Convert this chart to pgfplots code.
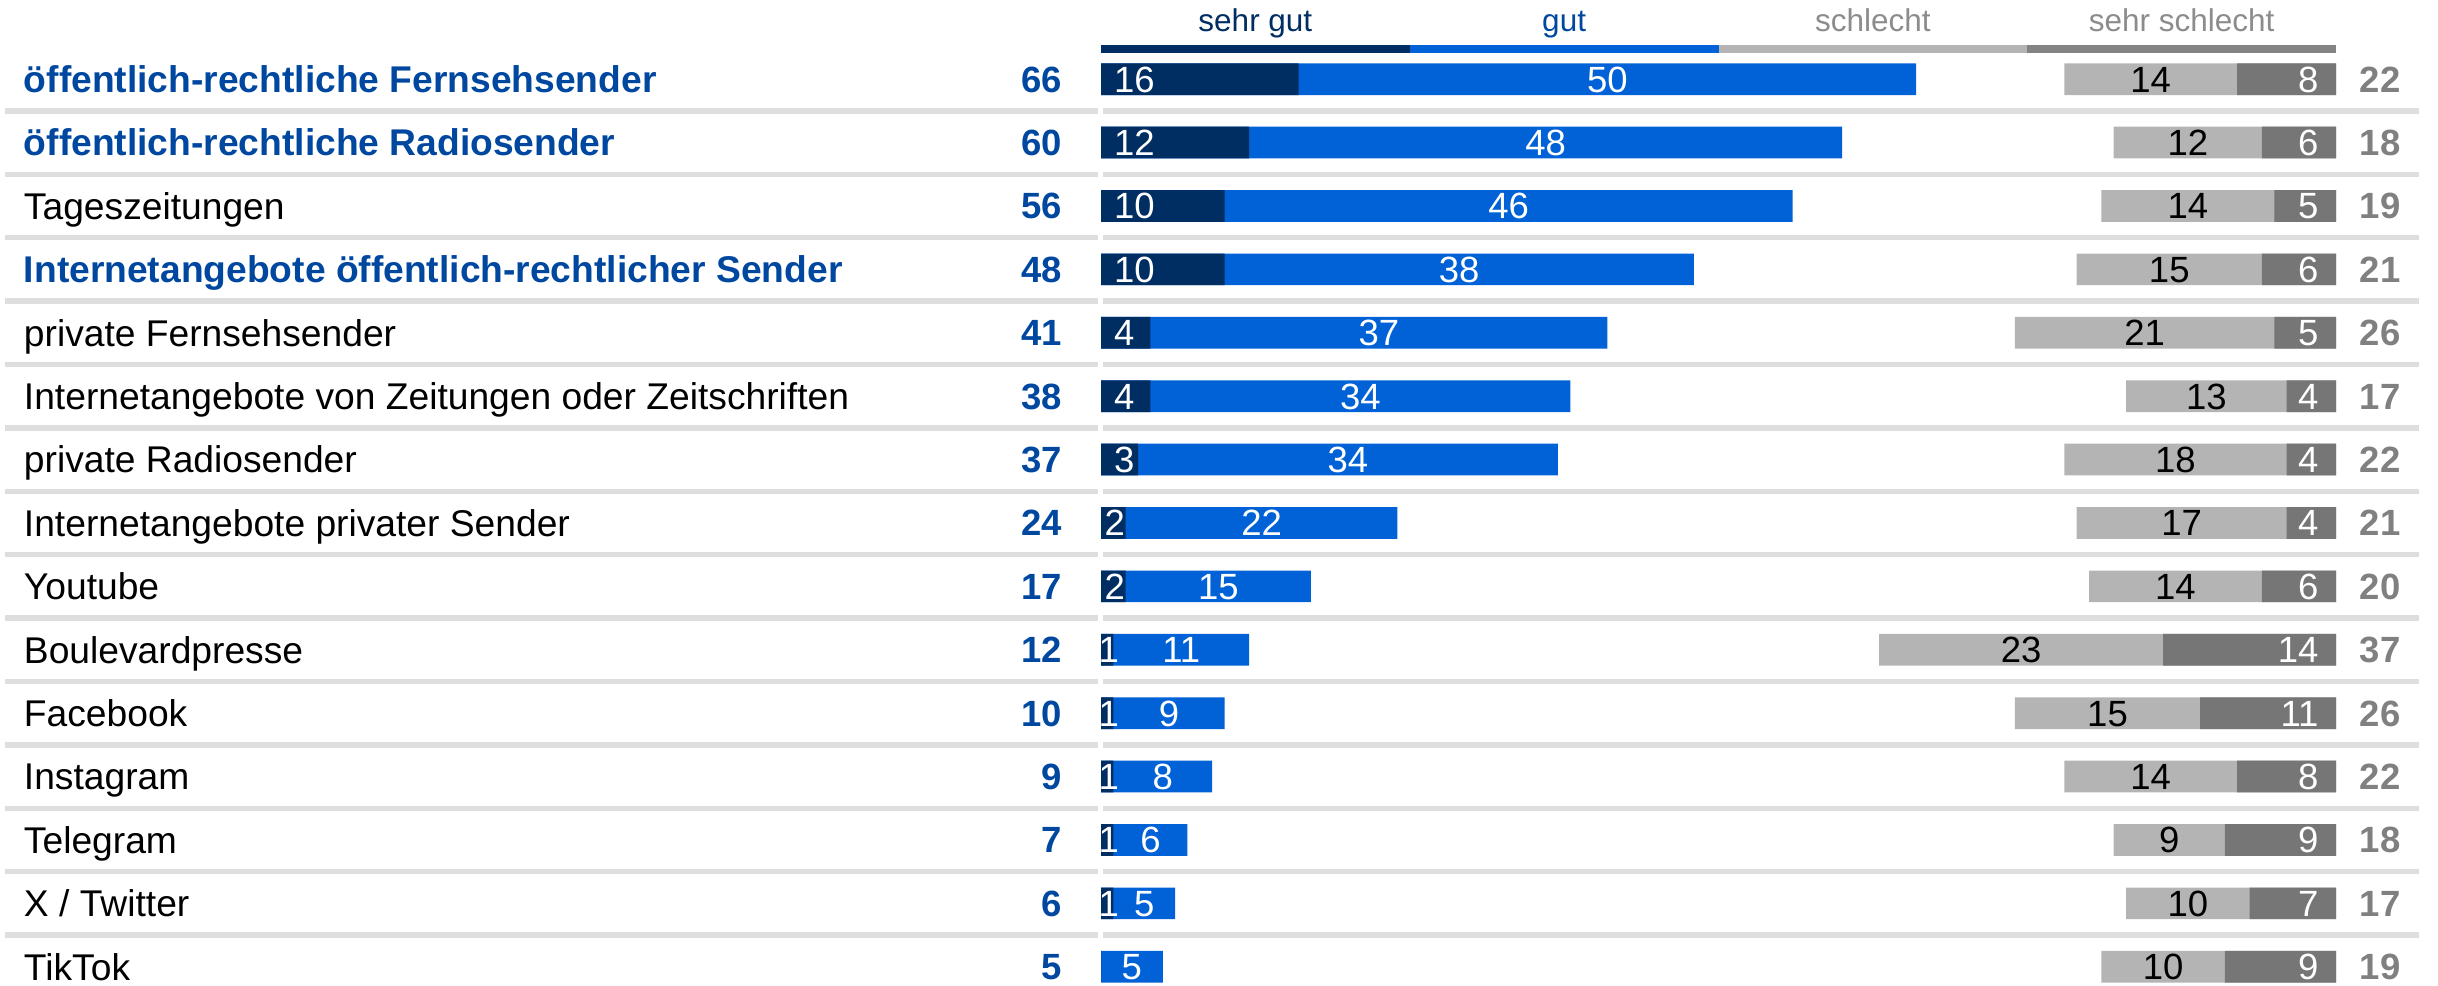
\documentclass[border=0pt]{standalone}
\usepackage{fontspec}
\setmainfont{Liberation Sans}
\usepackage{pgfplots}
\usepackage{pgfplotstable}
\pgfplotsset{compat=1.18}

\definecolor{sgc}{HTML}{002D62}
\definecolor{gutc}{HTML}{0062D6}
\definecolor{schc}{HTML}{B4B4B4}
\definecolor{sschc}{HTML}{767676}
\definecolor{legss}{HTML}{838383}
\definecolor{sepc}{HTML}{DEDEDE}
\definecolor{hl}{HTML}{0047A0}
\definecolor{totgray}{HTML}{808080}
\definecolor{leggray}{HTML}{8C8C8C}

\newcommand\fname{\fontsize{7.44pt}{9pt}\selectfont}
\newcommand\fnum{\fontsize{7.3pt}{9pt}\selectfont}
\newcommand\fleg{\fontsize{6.3pt}{8pt}\selectfont}

% row, bold?, name, total positive, sehr gut, gut, total negative, schlecht, sehr schlecht
\pgfplotstableread[col sep=comma]{
row,b,name,tot,sg,gut,neg,sch,ss
0,1,öffentlich-rechtliche Fernsehsender,66,16,50,22,14,8
1,1,öffentlich-rechtliche Radiosender,60,12,48,18,12,6
2,0,Tageszeitungen,56,10,46,19,14,5
3,1,Internetangebote öffentlich-rechtlicher Sender,48,10,38,21,15,6
4,0,private Fernsehsender,41,4,37,26,21,5
5,0,Internetangebote von Zeitungen oder Zeitschriften,38,4,34,17,13,4
6,0,private Radiosender,37,3,34,22,18,4
7,0,Internetangebote privater Sender,24,2,22,21,17,4
8,0,Youtube,17,2,15,20,14,6
9,0,Boulevardpresse,12,1,11,37,23,14
10,0,Facebook,10,1,9,26,15,11
11,0,Instagram,9,1,8,22,14,8
12,0,Telegram,7,1,6,18,9,9
13,0,X / Twitter,6,1,5,17,10,7
14,0,TikTok,5,0,5,19,10,9
}\data

\pgfplotsset{
  base/.style={scale only axis, width=487.6pt, height=197.2pt,
    ymin=-1.249, ymax=14.303, y dir=reverse, hide axis, clip=false},
  bar/.style={xbar, bar shift=0pt, bar width=0.5, draw=none, fill=#1},
  lbl/.style={draw=none, mark=none, point meta=explicit symbolic, nodes near coords},
}

\begin{document}
\begin{tikzpicture}
\begin{axis}[base, xmin=-89.15, xmax=108.26]
\path (rel axis cs:0,0) rectangle (rel axis cs:1,1);

% separators
\pgfplotsinvokeforeach{0,1,2,3,4,5,6,7,8,9,10,11,12,13}{
  \draw[sepc, line width=1.07pt] (axis cs:-88.74,#1.5) -- (axis cs:-0.24,#1.5);
  \draw[sepc, line width=1.07pt] (axis cs:0.16,#1.5) -- (axis cs:106.7,#1.5);
}

% legend key
\draw[line width=1.6pt, sgc] (axis cs:0,-0.476) -- (axis cs:25,-0.476);
\draw[line width=1.6pt, gutc] (axis cs:25,-0.476) -- (axis cs:50,-0.476);
\draw[line width=1.6pt, schc] (axis cs:50,-0.476) -- (axis cs:75,-0.476);
\draw[line width=1.6pt, legss] (axis cs:75,-0.476) -- (axis cs:100,-0.476);
\node[anchor=base, inner sep=0pt, font=\fleg, text=sgc] at (axis cs:12.5,-0.752) {sehr gut};
\node[anchor=base, inner sep=0pt, font=\fleg, text=hl] at (axis cs:37.5,-0.752) {gut};
\node[anchor=base, inner sep=0pt, font=\fleg, text=leggray] at (axis cs:62.5,-0.752) {schlecht};
\node[anchor=base, inner sep=0pt, font=\fleg, text=leggray] at (axis cs:87.5,-0.752) {sehr schlecht};

% positive bars
\addplot[bar=gutc] table[x=tot, y=row] \data;
\addplot[bar=sgc] table[x=sg, y=row] \data;

% category names (bold blue ones separately)
\addplot[lbl, restrict expr to domain={\thisrow{b}}{0:0},
  nodes near coords style={anchor=base west, inner sep=0pt, yshift=-2.66pt, font=\fname, text=black}]
  table[x expr=-87.29, y=row, meta=name] \data;
\addplot[lbl, restrict expr to domain={\thisrow{b}}{1:1},
  nodes near coords style={anchor=base west, inner sep=0pt, yshift=-2.66pt, font=\fname\bfseries, text=hl}]
  table[x expr=-87.29, y=row, meta=name] \data;

% totals
\addplot[lbl, nodes near coords style={anchor=base east, inner sep=0pt, yshift=-2.6pt, font=\fnum\bfseries, text=hl}]
  table[x expr=-3.1, y=row, meta=tot] \data;
\addplot[lbl, nodes near coords style={anchor=base west, inner sep=0pt, yshift=-2.6pt, font=\fnum\bfseries, text=totgray}]
  table[x expr=101.86, y=row, meta=neg] \data;

% values inside bars
\addplot[lbl, skip coords between index={7}{15},
  nodes near coords style={anchor=base west, inner sep=0pt, xshift=2.4pt, yshift=-2.6pt, font=\fnum, text=white}]
  table[x expr=0, y=row, meta=sg] \data;
\addplot[lbl, skip coords between index={0}{7}, skip coords between index={14}{15},
  nodes near coords style={anchor=base, inner sep=0pt, xshift=0.3pt, yshift=-2.6pt, font=\fnum, text=white}]
  table[x expr=\thisrow{sg}/2, y=row, meta=sg] \data;
\addplot[lbl, nodes near coords style={anchor=base, inner sep=0pt, yshift=-2.6pt, font=\fnum, text=white}]
  table[x expr=(\thisrow{sg}+\thisrow{tot})/2, y=row, meta=gut] \data;
\end{axis}

\begin{axis}[base, xmin=-8.26, xmax=189.15, x dir=reverse]
\addplot[bar=schc] table[x=neg, y=row] \data;
\addplot[bar=sschc] table[x=ss, y=row] \data;
\addplot[lbl, nodes near coords style={anchor=base, inner sep=0pt, yshift=-2.6pt, font=\fnum, text=black}]
  table[x expr=(\thisrow{ss}+\thisrow{neg})/2, y=row, meta=sch] \data;
\addplot[lbl, nodes near coords style={anchor=base east, inner sep=0pt, xshift=-3.3pt, yshift=-2.6pt, font=\fnum, text=white}]
  table[x expr=0, y=row, meta=ss] \data;
\end{axis}
\end{tikzpicture}
\end{document}
